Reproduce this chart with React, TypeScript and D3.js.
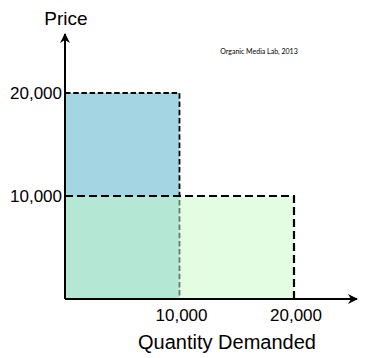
import React from "react";
import * as d3 from "d3";

const quantities = [10000, 20000];
const prices = [20000, 10000];
const xTickValues = [10000, 20000];
const yTickValues = [10000, 20000];
const xTitle = "Quantity Demanded";
const yTitle = "Price";
const credit = "Organic Media Lab, 2013";
const fills = ["#a3d5e2", "rgb(197,251,197)"];
const fillOpacity = [1, 0.5];
const dashes = ["5.5,2.7", "8,4"];
const strokeWidths = [1.8, 2.2];

export default function App() {
  const W = 377, H = 358;
  const x = d3.scaleLinear().domain([0, 10000]).range([65, 179.5]);
  const y = d3.scaleLinear().domain([0, 10000]).range([299, 196]);
  const fmt = d3.format(",");
  const x0 = x(0), y0 = y(0);
  return (
    <svg width={W} height={H} style={{ position: "absolute", left: 0, top: 0, background: "#fff" }}
      fontFamily="'Liberation Sans', Arial, sans-serif">
      <defs>
        <marker id="arr" viewBox="0 0 10 10" refX="9" refY="5" markerWidth="5" markerHeight="5" orient="auto">
          <path d="M0,0 L10,5 L0,10 L3,5 Z" fill="#000" />
        </marker>
      </defs>
      {quantities.map((q, i) => (
        <g key={i}>
          <rect x={x0} y={y(prices[i])} width={x(q) - x0} height={y0 - y(prices[i])}
            fill={fills[i]} fillOpacity={fillOpacity[i]} />
          <path d={`M${x0},${y(prices[i])} H${x(q)} V${y0}`} fill="none" stroke="#000"
            strokeWidth={strokeWidths[i]} strokeDasharray={dashes[i]} />
        </g>
      ))}
      <line x1={x0} y1={y0} x2={x0} y2={34} stroke="#000" strokeWidth={2} markerEnd="url(#arr)" />
      <line x1={x0} y1={y0} x2={357} y2={y0} stroke="#000" strokeWidth={2} markerEnd="url(#arr)" />
      {yTickValues.map(v => (
        <text key={v} x={62} y={y(v) + 6} textAnchor="end" fontSize={17}>{fmt(v)}</text>
      ))}
      {xTickValues.map(v => (
        <text key={v} x={x(v) + 2} y={321} textAnchor="middle" fontSize={17}>{fmt(v)}</text>
      ))}
      <text x={66} y={25} textAnchor="middle" fontSize={19}>{yTitle}</text>
      <text x={227} y={349} textAnchor="middle" fontSize={20}>{xTitle}</text>
      <text x={259} y={54} textAnchor="middle" fontSize={7} fontFamily="Lato, sans-serif">{credit}</text>
    </svg>
  );
}
